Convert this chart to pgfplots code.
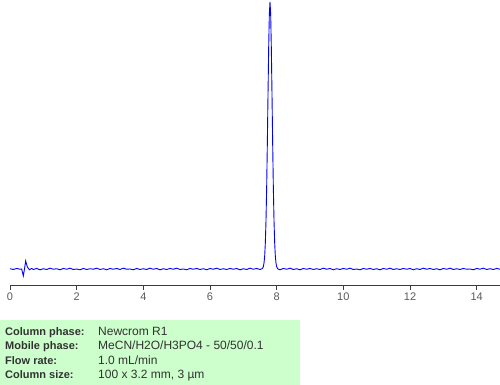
\documentclass[border=0pt]{standalone}
\usepackage{fontspec}
\setmainfont{Liberation Sans}
\usepackage{pgfplots}
\pgfplotsset{compat=1.18}
\usepackage{pgfplotstable}
\definecolor{boxgreen}{RGB}{204,255,204}
\definecolor{axgray}{RGB}{60,60,60}
\definecolor{tickgray}{RGB}{90,90,90}
\definecolor{txtgray}{RGB}{50,50,50}
\pgfplotstableread{
x y
0.00 0.1
0.10 -0.2
0.20 0.2
0.30 -0.1
0.35 0.0
0.40 -2.6
0.44 0.4
0.47 3.0
0.52 0.8
0.58 -0.3
0.65 0.2
0.70 -0.2
0.80 0.2
0.90 -0.3
1.00 0.1
1.10 -0.2
1.20 0.3
1.30 -0.1
1.40 0.1
1.50 -0.3
1.60 0.2
1.70 -0.1
1.80 0.3
1.90 -0.2
2.00 0.0
2.10 -0.3
2.20 0.2
2.30 -0.2
2.40 0.1
2.50 -0.1
2.60 0.3
2.70 -0.2
2.80 0.1
2.90 -0.3
3.00 0.2
3.10 -0.1
3.20 0.2
3.30 -0.2
3.40 0.3
3.50 -0.1
3.60 0.0
3.70 -0.3
3.80 0.2
3.90 -0.2
4.00 0.1
4.10 -0.2
4.20 0.3
4.30 -0.1
4.40 0.2
4.50 -0.3
4.60 0.1
4.70 -0.2
4.80 0.2
4.90 -0.1
5.00 0.3
5.10 -0.2
5.20 0.0
5.30 -0.3
5.40 0.2
5.50 -0.1
5.60 0.2
5.70 -0.2
5.80 0.1
5.90 -0.3
6.00 0.2
6.10 -0.1
6.20 0.3
6.30 -0.2
6.40 0.1
6.50 -0.2
6.60 0.2
6.70 -0.1
6.80 0.2
6.90 -0.3
7.00 0.1
7.10 -0.2
7.20 0.3
7.30 -0.1
7.40 0.2
7.50 -0.2
7.56 0.1
7.58 0.3
7.60 0.9
7.62 2.2
7.64 4.8
7.66 9.8
7.68 18.2
7.70 30.6
7.72 46.9
7.74 65.3
7.76 82.7
7.78 95.4
7.80 100
7.82 95.4
7.84 82.7
7.86 65.3
7.88 46.9
7.90 30.6
7.92 18.2
7.94 9.8
7.96 4.8
7.98 2.2
8.00 0.9
8.02 0.3
8.04 0.0
8.10 -0.3
8.20 0.2
8.30 -0.1
8.40 0.3
8.50 -0.2
8.60 0.1
8.70 -0.3
8.80 0.2
8.90 -0.1
9.00 0.2
9.10 -0.2
9.20 0.1
9.30 -0.2
9.40 0.3
9.50 -0.1
9.60 0.2
9.70 -0.3
9.80 0.1
9.90 -0.2
10.00 0.2
10.10 -0.1
10.20 0.3
10.30 -0.2
10.40 0.0
10.50 -0.3
10.60 0.2
10.70 -0.1
10.80 0.2
10.90 -0.2
11.00 0.1
11.10 -0.3
11.20 0.2
11.30 -0.1
11.40 0.3
11.50 -0.2
11.60 0.1
11.70 -0.2
11.80 0.2
11.90 -0.1
12.00 0.2
12.10 -0.3
12.20 0.1
12.30 -0.2
12.40 0.3
12.50 -0.1
12.60 0.2
12.70 -0.2
12.80 0.1
12.90 -0.3
13.00 0.2
13.10 -0.1
13.20 0.3
13.30 -0.2
13.40 0.1
13.50 -0.2
13.60 0.2
13.70 -0.1
13.80 0.0
13.90 -0.3
14.00 0.2
14.10 -0.1
14.20 0.3
14.30 -0.2
14.40 0.1
14.50 -0.2
14.60 0.2
14.70 -0.1
}\chrom
\begin{document}
\begin{tikzpicture}[x=1pt,y=1pt]
\useasboundingbox (0,0) rectangle (500,385);
\fill[boxgreen] (0,0) rectangle (300,65);
\begin{axis}[
  at={(10pt,100pt)}, anchor=south west,
  scale only axis, width=490pt, height=285pt,
  xmin=0, xmax=14.7, ymin=-6, ymax=100.75,
  axis x line=bottom, axis y line=none,
  axis line style={draw=axgray, line width=0.8pt, -},
  xtick={0,2,4,6,8,10,12,14},
  tick style={draw=axgray, line width=0.8pt},
  tick align=outside, major tick length=5pt,
  xticklabel style={text=tickgray, font=\fontsize{11}{13}\selectfont, yshift=1pt},
  /pgf/number format/assume math mode=true,
  clip=false,
]
\addplot[color=blue, line width=0.9pt, mark=none] table[x=x,y=y] {\chrom};
\end{axis}
\begin{scope}[every node/.style={anchor=base west, inner sep=0pt, text=txtgray}]
\node at (5,49.5) {\fontsize{11}{13}\selectfont\bfseries Column phase:};
\node at (5,35) {\fontsize{11}{13}\selectfont\bfseries Mobile phase:};
\node at (5,20.5) {\fontsize{11}{13}\selectfont\bfseries Flow rate:};
\node at (5,6) {\fontsize{11}{13}\selectfont\bfseries Column size:};
\node at (98,49.5) {\fontsize{12}{14}\selectfont Newcrom R1};
\node at (98,35) {\fontsize{12}{14}\selectfont MeCN/H2O/H3PO4 - 50/50/0.1};
\node at (98,20.5) {\fontsize{12}{14}\selectfont 1.0 mL/min};
\node at (98,6) {\fontsize{12}{14}\selectfont 100 x 3.2 mm, 3 µm};
\end{scope}
\end{tikzpicture}
\end{document}
